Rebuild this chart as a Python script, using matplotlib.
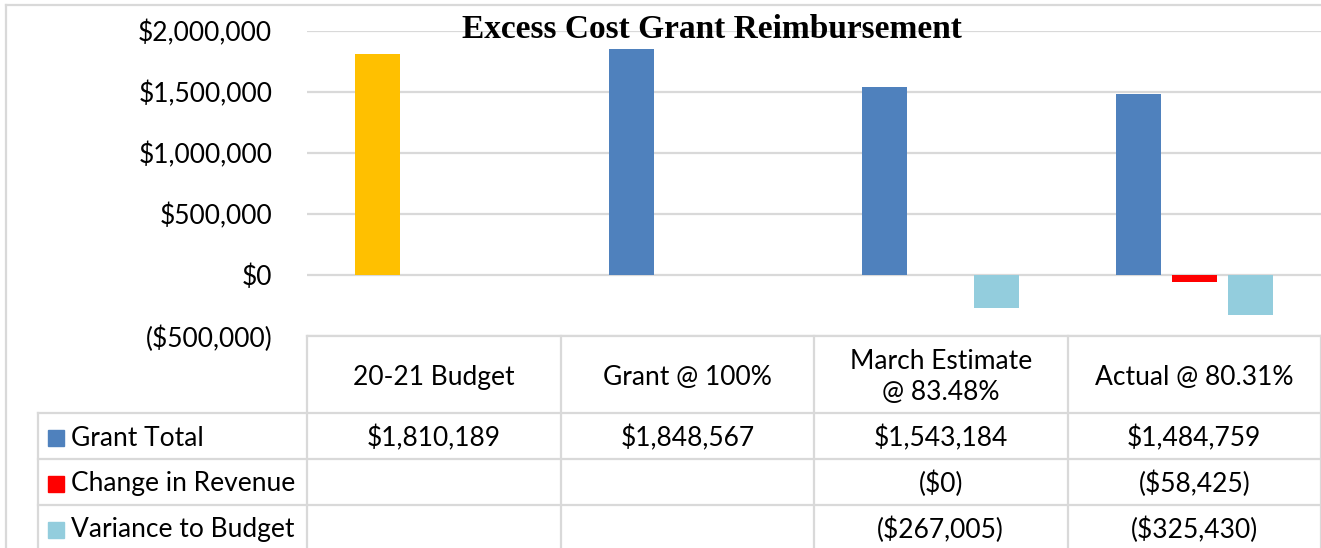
import numpy as np
import matplotlib
matplotlib.use("Agg")
import matplotlib.pyplot as plt
from matplotlib.patches import Rectangle

categories = ["20-21 Budget", "Grant @ 100%", "March Estimate\n@ 83.48%", "Actual @ 80.31%"]
series_names = ["Grant Total", "Change in Revenue", "Variance to Budget"]
grant_total = [1810189, 1848567, 1543184, 1484759]
change_in_revenue = [None, None, -0.4, -58425]
variance_to_budget = [None, None, -267005, -325430]
series_colors = ["#4F81BD", "#FF0000", "#93CDDD"]
budget_color = "#FFC000"
yticks = [-500000, 0, 500000, 1000000, 1500000, 2000000]

W, H = 1321, 548
plt.rcParams['font.family'] = ['Lato', 'DejaVu Sans']
GRID = "#D9D9D9"
FS = 19


def money(v):
    if v is None:
        return ""
    if v < 0:
        return "(${:,.0f})".format(abs(v))
    return "${:,.0f}".format(v)


fig = plt.figure(figsize=(W / 100, H / 100), dpi=100)

# plot area
left, right, top, bottom = 307, 1321, 31, 336
ax = fig.add_axes([left / W, 1 - bottom / H, (right - left) / W, (bottom - top) / H])
x = np.arange(len(categories))
offsets = [-0.221, 0.0, 0.221]
bw = 0.178
all_series = [grant_total, change_in_revenue, variance_to_budget]
for k, vals in enumerate(all_series):
    v = np.array([np.nan if a is None else a for a in vals], dtype=float)
    cols = [series_colors[k]] * len(v)
    if k == 0:
        cols[0] = budget_color
    ax.bar(x + offsets[k], v, width=bw, color=cols, zorder=3)

ax.set_xlim(-0.5, len(categories) - 0.5)
ax.set_ylim(yticks[0], yticks[-1])
ax.set_yticks(yticks)
ax.set_yticklabels([money(t) for t in yticks], fontsize=FS)
ax.tick_params(axis="y", length=0, pad=25)
ax.set_xticks([])
ax.grid(axis="y", color=GRID, linewidth=1.6, zorder=0)
for s in ax.spines.values():
    s.set_visible(False)

fig.text(712 / W, 1 - 29 / H, "Excess Cost Grant Reimbursement", ha="center", va="center",
         fontsize=24, fontweight="bold", family=["Liberation Serif", "DejaVu Serif"])

# data table
tab = fig.add_axes([left / W, 0, (right - left) / W, (H - bottom) / H], sharex=ax)
tab.set_ylim(H - bottom, 0)
tab.axis("off")
label_left = -0.5 - (left - 38) / (right - left) * len(categories)
row_edges = [0, 77, 123, 169, 215]
lk = dict(color=GRID, linewidth=1.6, clip_on=False)

tab.plot([-0.5, len(categories) - 0.5], [0, 0], **lk)
for r in row_edges[1:4]:
    tab.plot([label_left, len(categories) - 0.5], [r, r], **lk)
for c in range(len(categories) + 1):
    tab.plot([c - 0.5, c - 0.5], [0, 215], **lk)
tab.plot([label_left, label_left], [77, 215], **lk)

for i, cat in enumerate(categories):
    tab.text(i, 41, cat, ha="center", va="center", fontsize=FS, linespacing=1.3)

px = (len(categories)) / (right - left)
for k, name in enumerate(series_names):
    yc = (row_edges[k + 1] + row_edges[k + 2]) / 2 + 2
    tab.add_patch(Rectangle((label_left + 10 * px, yc - 8), 16 * px, 16,
                            color=series_colors[k], clip_on=False))
    tab.text(label_left + 33 * px, yc, name, ha="left", va="center", fontsize=FS, clip_on=False)
    for i, val in enumerate(all_series[k]):
        tab.text(i, yc, money(val), ha="center", va="center", fontsize=FS)

# outer chart border
fig.add_artist(plt.Line2D([6 / W, 1], [1 - 5 / H, 1 - 5 / H], color=GRID, linewidth=1.6))
fig.add_artist(plt.Line2D([6 / W, 6 / W], [0, 1 - 5 / H], color=GRID, linewidth=1.6))

fig.savefig("out.png", dpi=100, facecolor="white")
